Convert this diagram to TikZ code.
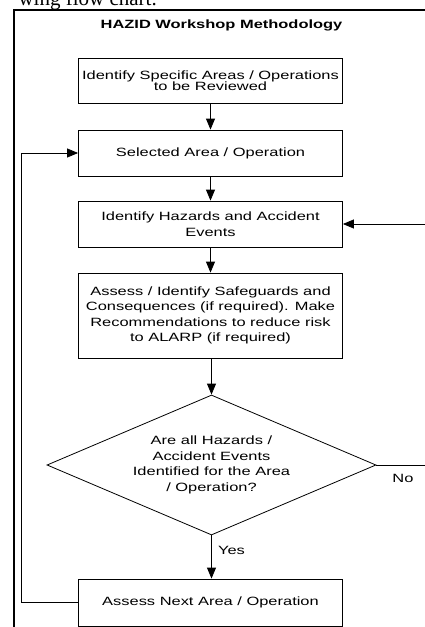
\documentclass[tikz,border=0pt]{standalone}
\usepackage{fontspec}
\usetikzlibrary{arrows.meta,shapes.geometric}
\newfontfamily\diagfont{Liberation Sans}[FakeStretch=1.37]
\newfontfamily\docfont{Liberation Serif}
\begin{document}
\begin{tikzpicture}[x=1pt,y=-1pt,
  every node/.style={font=\diagfont\fontsize{12}{15.5}\selectfont},
  stepbox/.style={draw=black,line width=0.8pt,minimum width=264pt,inner sep=0pt,align=center},
  decision/.style={draw=black,line width=0.8pt,diamond,aspect=2.35,minimum width=329pt,minimum height=140pt,inner sep=0pt,align=center},
  arr/.style={line width=0.8pt,-{Triangle[length=11pt,width=9pt]}},
  plain/.style={line width=0.8pt},
  frame/.style={line width=2.2pt}]
\useasboundingbox (0,0) rectangle (424,627);
% document text cut at top
\node[font=\docfont\fontsize{21}{24}\selectfont,anchor=base east,inner sep=0pt] (doctext) at (157,5) {wing flow chart.};
% frame
\coordinate (ftl) at (14,10);
\coordinate (ftr) at (430,10);
\coordinate (fbl) at (14,632);
\draw[frame] (ftr) -- (ftl) -- (fbl);
% title
\node[font=\diagfont\bfseries\fontsize{12}{15.5}\selectfont] (title) at (221.5,25) {HAZID Workshop Methodology};
% boxes
\node[stepbox,minimum height=45pt] (b1) at (210.5,80.5) {Identify Specific Areas / Operations\\[-4.5pt]to be Reviewed};
\node[stepbox,minimum height=46pt] (b2) at (210.5,153) {Selected Area / Operation};
\node[stepbox,minimum height=46pt] (b3) at (210.5,224) {Identify Hazards and Accident\\Events};
\node[stepbox,minimum height=85pt] (b4) at (210.5,315.5) {Assess / Identify Safeguards and\\Consequences (if required). Make\\Recommendations to reduce risk\\to ALARP (if required)};
\node[decision] (d1) at (211.5,465) {Are all Hazards /\\Accident Events\\Identified for the Area\\/ Operation?};
\node[stepbox,minimum height=47pt] (b5) at (210.5,602.5) {Assess Next Area / Operation};
% labels
\node (yes) at (231.5,550) {Yes};
\node (no) at (403,478) {No};
% connectors
\draw[arr] (b1) -- (b2);
\draw[arr] (b2) -- (b3);
\draw[arr] (b3) -- (b4);
\draw[arr] (b4.south -| d1.north) -- (d1.north);
\draw[arr] (d1.south) -- (d1.south |- b5.north);
\coordinate (noend) at (430,465);
\coordinate (backin) at (430,224);
\draw[plain] (d1.east) -- (noend);
\draw[arr] (backin) -- (b3.east);
\coordinate (loop) at (21,0);
\draw[arr] (b5.west) -- (b5.west -| loop) -- (b2.west -| loop) -- (b2.west);
\end{tikzpicture}
\end{document}
